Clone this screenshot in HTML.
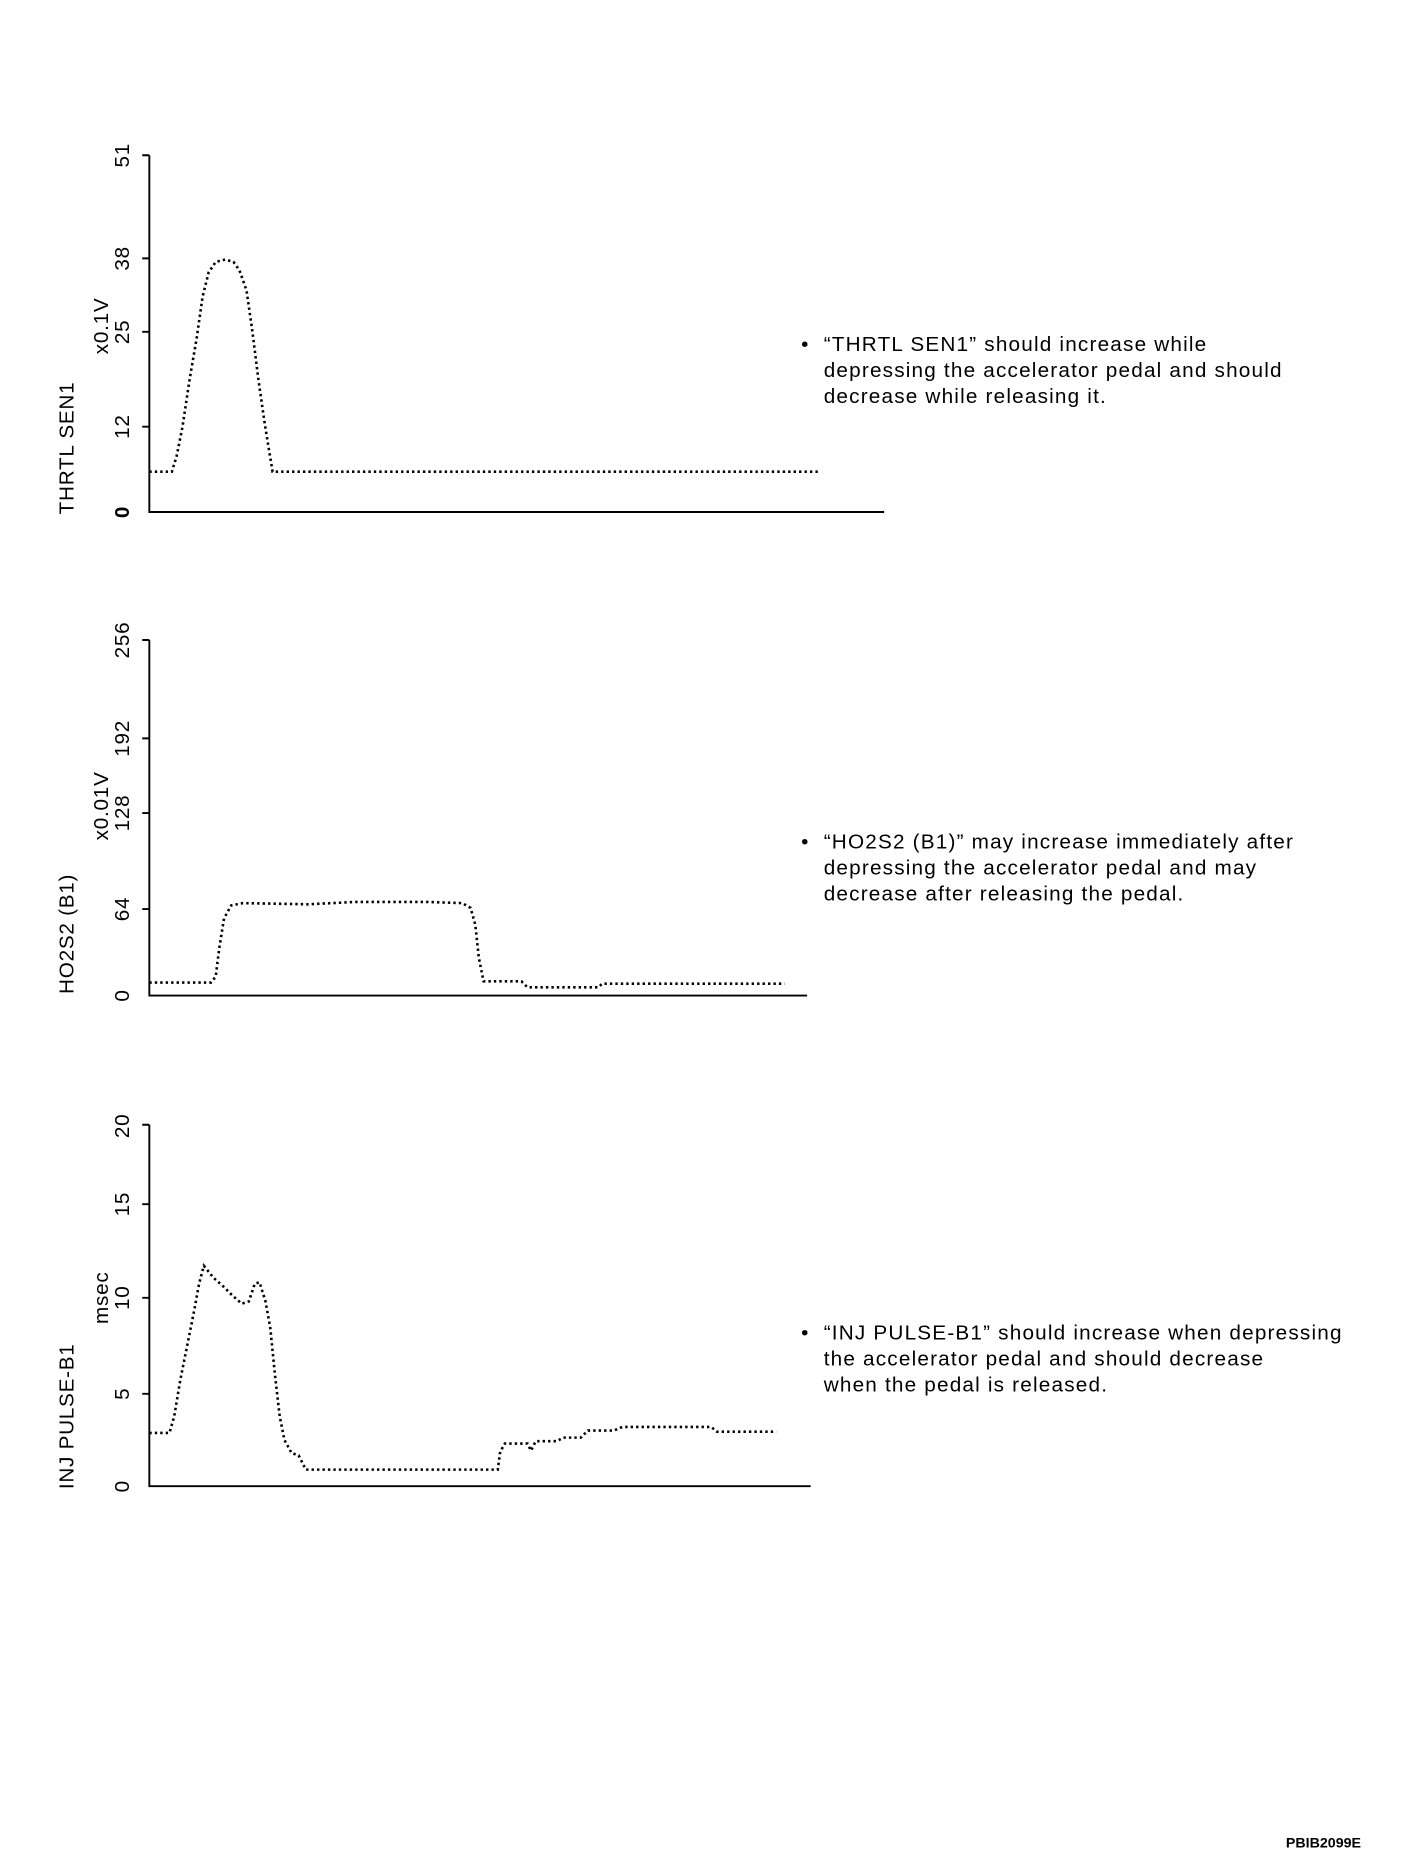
<!DOCTYPE html>
<html><head><meta charset="utf-8"><style>
html,body{margin:0;padding:0;background:#fff;}
svg{display:block;}
text{font-family:"Liberation Sans",Arial,sans-serif;fill:#000;}
</style></head><body>
<svg width="1408" height="1856" viewBox="0 0 1188 1566" xmlns="http://www.w3.org/2000/svg">
<g stroke="#000" stroke-width="1.6" fill="none">
<path d="M126 131V432H746"/>
<path d="M120 131H126M120 218H126M120 280H126M120 360H126"/>
<path d="M126 540V840H681"/>
<path d="M120 540H126M120 623H126M120 686H126M120 767H126"/>
<path d="M126 949V1254H684"/>
<path d="M120 949H126M120 1016H126M120 1095H126M120 1176H126"/>
</g>
<g stroke="#000" stroke-width="2.2" fill="none" stroke-dasharray="2 2.6">
<path d="M126 398H145L149 385L154 360L160 320L166 285L171 250L176 230L182 221L190 219L197 221L202 228L208 245L213 280L218 320L223 355L227 380L230 398H692"/>
<path d="M126 829H178L182 824L185 800L189 775L195 764L205 762L260 763L300 761L360 761L390 762L397 766L401 780L404 808L408 828H440L445 833H505L508 830H662"/>
<path d="M126 1209H143L147 1195L152 1165L158 1135L164 1105L168 1083L172 1068L180 1078L188 1085L196 1093L204 1100L210 1098L215 1083L219 1082L224 1098L228 1120L232 1160L236 1195L240 1215L246 1226L252 1228L258 1240H420L422 1225L426 1218H445L448 1224L452 1216H470L475 1213H490L496 1207H510L518 1207L525 1204H600L605 1208H655"/>
</g>
<g font-size="17.5" letter-spacing="0.6">
<text transform="translate(109 131) rotate(-90)" text-anchor="middle">51</text>
<text transform="translate(109 218) rotate(-90)" text-anchor="middle">38</text>
<text transform="translate(109 280) rotate(-90)" text-anchor="middle">25</text>
<text transform="translate(109 360) rotate(-90)" text-anchor="middle">12</text>
<text transform="translate(109 432) rotate(-90)" text-anchor="middle" font-weight="bold">0</text>
<text transform="translate(91 275) rotate(-90)" text-anchor="middle">x0.1V</text>
<text transform="translate(62 378) rotate(-90)" text-anchor="middle">THRTL SEN1</text>

<text transform="translate(109 540) rotate(-90)" text-anchor="middle">256</text>
<text transform="translate(109 623) rotate(-90)" text-anchor="middle">192</text>
<text transform="translate(109 686) rotate(-90)" text-anchor="middle">128</text>
<text transform="translate(109 767) rotate(-90)" text-anchor="middle">64</text>
<text transform="translate(109 840) rotate(-90)" text-anchor="middle">0</text>
<text transform="translate(91 680) rotate(-90)" text-anchor="middle">x0.01V</text>
<text transform="translate(62 788) rotate(-90)" text-anchor="middle">HO2S2 (B1)</text>

<text transform="translate(109 950) rotate(-90)" text-anchor="middle">20</text>
<text transform="translate(109 1016) rotate(-90)" text-anchor="middle">15</text>
<text transform="translate(109 1095) rotate(-90)" text-anchor="middle">10</text>
<text transform="translate(109 1176) rotate(-90)" text-anchor="middle">5</text>
<text transform="translate(109 1254) rotate(-90)" text-anchor="middle">0</text>
<text transform="translate(91 1095) rotate(-90)" text-anchor="middle">msec</text>
<text transform="translate(62 1195) rotate(-90)" text-anchor="middle">INJ PULSE-B1</text>
</g>
<g font-size="17.5" letter-spacing="1">
<text x="676" y="296">•</text>
<text x="695" y="296">“THRTL SEN1” should increase while</text>
<text x="695" y="318">depressing the accelerator pedal and should</text>
<text x="695" y="340">decrease while releasing it.</text>

<text x="676" y="716">•</text>
<text x="695" y="716">“HO2S2 (B1)” may increase immediately after</text>
<text x="695" y="738">depressing the accelerator pedal and may</text>
<text x="695" y="760">decrease after releasing the pedal.</text>

<text x="676" y="1130">•</text>
<text x="695" y="1130">“INJ PULSE-B1” should increase when depressing</text>
<text x="695" y="1152">the accelerator pedal and should decrease</text>
<text x="695" y="1174">when the pedal is released.</text>
</g>
<text x="1085" y="1559" font-size="12" font-weight="bold">PBIB2099E</text>
</svg>
</body></html>
